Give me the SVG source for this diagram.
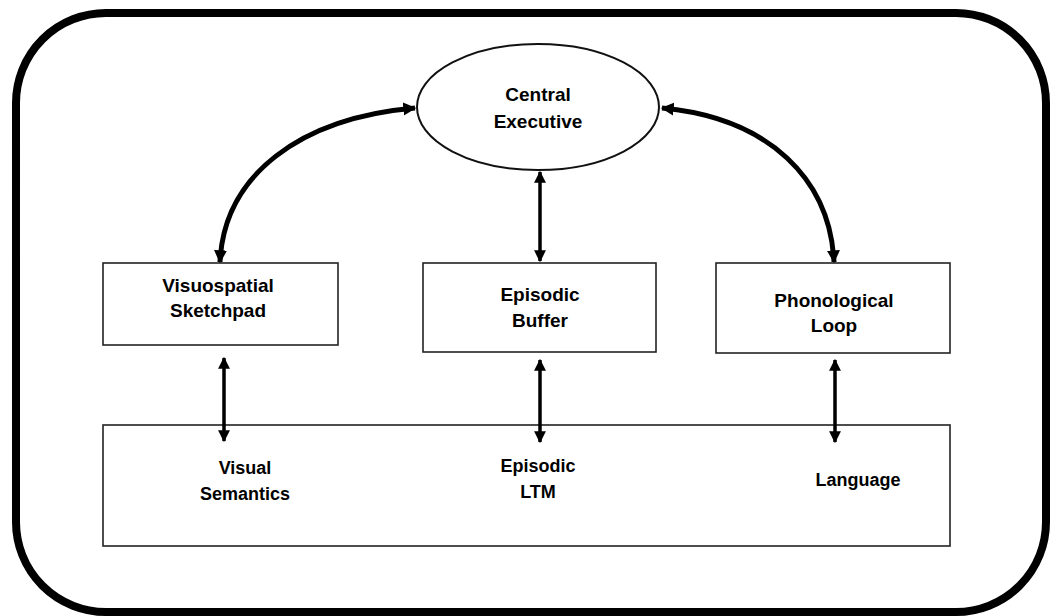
<svg xmlns="http://www.w3.org/2000/svg" width="1051" height="616" viewBox="0 0 1051 616">
<style>
.lbl{font-family:"Liberation Sans",Arial,sans-serif;font-weight:bold;font-size:19px;fill:#000;text-anchor:middle}
.lbl2{font-family:"Liberation Sans",Arial,sans-serif;font-weight:bold;font-size:18px;fill:#000;text-anchor:middle}
.box{fill:#fff;stroke:#222;stroke-width:1.6}
.conn{fill:none;stroke:#000;stroke-width:5}
.vconn{fill:none;stroke:#000;stroke-width:3.5}
</style>
<defs>
<marker id="ah" viewBox="0 0 10 10" refX="9" refY="5" markerWidth="2.6" markerHeight="3.2" orient="auto-start-reverse" markerUnits="strokeWidth">
<path d="M0,0 L10,5 L0,10 z" fill="#000"/>
</marker>
<marker id="ah2" viewBox="0 0 10 10" refX="9" refY="5" markerWidth="3.4" markerHeight="3.8" orient="auto-start-reverse" markerUnits="strokeWidth">
<path d="M0,0 L10,5 L0,10 z" fill="#000"/>
</marker>
</defs>
<rect width="1051" height="616" fill="#fff"/>
<rect id="frame" x="16" y="13" width="1030" height="599" rx="90" ry="90" fill="none" stroke="#000" stroke-width="8"/>
<g id="central-executive">
<ellipse cx="538" cy="107" rx="121" ry="63" fill="#fff" stroke="#111" stroke-width="2"/>
<text class="lbl" x="538" y="101">Central</text>
<text class="lbl" x="538" y="128">Executive</text>
</g>
<g id="visuospatial-sketchpad">
<rect class="box" x="103" y="263" width="235" height="82"/>
<text class="lbl" x="218" y="292">Visuospatial</text>
<text class="lbl" x="218" y="317">Sketchpad</text>
</g>
<g id="episodic-buffer">
<rect class="box" x="423" y="263" width="233" height="89"/>
<text class="lbl" x="540" y="301">Episodic</text>
<text class="lbl" x="540" y="327">Buffer</text>
</g>
<g id="phonological-loop">
<rect class="box" x="716" y="263" width="234" height="90"/>
<text class="lbl" x="834" y="307">Phonological</text>
<text class="lbl" x="834" y="332">Loop</text>
</g>
<g id="ltm">
<rect class="box" x="103" y="425" width="847" height="121" stroke-width="2"/>
<text class="lbl2" x="245" y="474">Visual</text>
<text class="lbl2" x="245" y="500">Semantics</text>
<text class="lbl2" x="538" y="472">Episodic</text>
<text class="lbl2" x="538" y="498">LTM</text>
<text class="lbl2" x="858" y="486">Language</text>
</g>
<g id="connectors">
<path class="conn" marker-start="url(#ah)" marker-end="url(#ah)" d="M415,108 C300,118 224,175 220,262"/>
<path class="conn" marker-start="url(#ah)" marker-end="url(#ah)" d="M662,108 C770,118 830,180 834,262"/>
<path class="vconn" marker-start="url(#ah2)" marker-end="url(#ah2)" d="M540,172 L540,261"/>
<path class="vconn" marker-start="url(#ah2)" marker-end="url(#ah2)" d="M224,358 L224,441"/>
<path class="vconn" marker-start="url(#ah2)" marker-end="url(#ah2)" d="M540,360 L540,442"/>
<path class="vconn" marker-start="url(#ah2)" marker-end="url(#ah2)" d="M835,360 L835,442"/>
</g>
</svg>
